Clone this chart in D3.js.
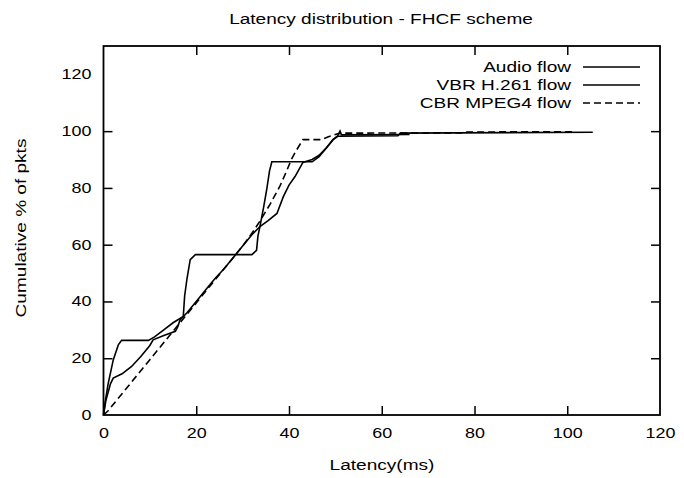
<!DOCTYPE html>
<html lang="en">
<head>
<meta charset="UTF-8">
<title>Latency distribution - FHCF scheme</title>
<script src="https://d3js.org/d3.v7.min.js"></script>
<style>
  body { margin: 0; background: #fff; }
  svg { display: block; }
  text { font-family: "Liberation Sans", Arial, sans-serif; font-size: 14px; fill: #000; }
  .domain { display: none; }
  .tick line { stroke: #000; stroke-width: 1.5; }
</style>
</head>
<body>
<svg></svg>
<script>
// latency (ms) / cumulative % pairs
const audioX = [0, 0.3, 1.0, 2.1, 3.2, 3.9, 9.7, 11, 13, 15, 17.2, 17.5, 18, 18.7, 19.8, 32, 33, 33.3, 33.8, 34.5, 35.2, 35.8, 36.3, 45, 46.5, 48, 49.5, 50.5, 63.5, 64, 105.5];
const audioY = [0, 4, 11, 19.4, 24.7, 26.3, 26.3, 27.5, 30, 32.5, 34.7, 42, 48, 54.7, 56.5, 56.5, 58, 63, 67, 73, 79.5, 86, 89.2, 89.2, 91, 94, 97, 98.2, 98.4, 99.3, 99.6];

const vbrX = [0, 0.5, 1.5, 2.1, 4, 6, 8, 10, 10.7, 13, 15.5, 16, 16.5, 18, 20, 22, 24, 26, 28, 30, 32, 33.8, 35.5, 37.4, 38.8, 40, 41.3, 43, 45, 46.5, 48, 49.5, 50.5, 51, 51.3, 66];
const vbrY = [0, 5, 11, 13, 14.5, 17, 20.5, 24.5, 26.5, 28, 29.5, 31, 33.5, 36, 40, 44, 48, 51.5, 55.5, 59.5, 63.5, 66.5, 68.5, 71, 77, 81, 84, 89, 90, 91.5, 94, 97, 98.3, 100, 98.7, 98.8];

const cbrX = [0, 1, 2, 4, 6, 8, 10, 12, 14, 16, 18, 20, 22, 24, 26, 28, 30, 32, 34, 36, 38, 39.5, 40.5, 41.5, 43, 47, 48.5, 50, 51, 77.5, 78, 101];
const cbrY = [0, 1.5, 3.5, 7.5, 11.5, 15.5, 19.5, 23.5, 27.5, 31.5, 35.5, 39.5, 43.5, 47.5, 51.5, 55.5, 59.5, 64, 69, 74.5, 80.5, 86, 90, 93, 97, 97, 98, 98.8, 99.3, 99.4, 99.7, 99.8];

const seriesNames = ["Audio flow", "VBR H.261 flow", "CBR MPEG4 flow"];
const seriesDash = [null, null, "7,4"];
const xTicks = [0, 20, 40, 60, 80, 100, 120];
const yTicks = [0, 20, 40, 60, 80, 100, 120];

const width = 684, height = 478;
const margin = { top: 46, right: 24, bottom: 63, left: 103.5 };
const svg = d3.select("svg").attr("width", width).attr("height", height);

const x = d3.scaleLinear().domain([0, 120]).range([margin.left, width - margin.right]);
const y = d3.scaleLinear().domain([0, 130]).range([height - margin.bottom, margin.top]);

// ticks on all four sides, pointing inward
svg.append("g")
    .attr("transform", `translate(0,${y(0)})`)
    .call(d3.axisBottom(x).tickValues(xTicks).tickSize(-9).tickSizeOuter(0).tickPadding(13))
    .selectAll("text").attr("dy", "0.71em");
svg.append("g")
    .attr("transform", `translate(0,${y(130)})`)
    .call(d3.axisTop(x).tickValues(xTicks).tickSize(-9).tickSizeOuter(0).tickFormat(""));
svg.append("g")
    .attr("transform", `translate(${x(0)},0)`)
    .call(d3.axisLeft(y).tickValues(yTicks).tickSize(-9).tickSizeOuter(0).tickPadding(12));
svg.append("g")
    .attr("transform", `translate(${x(120)},0)`)
    .call(d3.axisRight(y).tickValues(yTicks).tickSize(-9).tickSizeOuter(0).tickFormat(""));

svg.selectAll(".tick line").filter(d => d === 0 || d === 120).remove();

svg.append("rect")
    .attr("x", x(0)).attr("y", y(130))
    .attr("width", x(120) - x(0)).attr("height", y(0) - y(130))
    .attr("fill", "none").attr("stroke", "#000").attr("stroke-width", 1.8);

const line = d3.line().x(d => x(d[0])).y(d => y(d[1]));
const series = [
    d3.zip(audioX, audioY),
    d3.zip(vbrX, vbrY),
    d3.zip(cbrX, cbrY)
];

svg.append("g").selectAll("path")
    .data(series)
    .join("path")
    .attr("d", line)
    .attr("fill", "none")
    .attr("stroke", "#000")
    .attr("stroke-width", 1.6)
    .attr("stroke-dasharray", (d, i) => seriesDash[i]);

// legend, top right inside the frame
const legend = svg.append("g").selectAll("g")
    .data(seriesNames)
    .join("g")
    .attr("transform", (d, i) => `translate(0,${67 + i * 18})`);
legend.append("text")
    .attr("class", "label")
    .attr("x", 571).attr("dy", "0.35em")
    .attr("text-anchor", "end")
    .text(d => d);
legend.append("line")
    .attr("x1", 583).attr("x2", 640)
    .attr("stroke", "#000").attr("stroke-width", 1.6)
    .attr("stroke-dasharray", (d, i) => seriesDash[i]);

svg.append("text")
    .attr("class", "label")
    .attr("x", 381).attr("y", 24)
    .attr("text-anchor", "middle")
    .text("Latency distribution - FHCF scheme");
svg.append("text")
    .attr("class", "label")
    .attr("x", 382).attr("y", 470)
    .attr("text-anchor", "middle")
    .text("Latency(ms)");
svg.append("text")
    .attr("class", "label")
    .attr("transform", "translate(26,228) rotate(-90)")
    .attr("text-anchor", "middle")
    .text("Cumulative % of pkts");

// the original lettering is wider than Liberation Sans
svg.selectAll("text").each(function() {
    const w = this.getComputedTextLength();
    const k = this.classList.contains("label") ? 1.36 : 1.28;
    if (w > 0) d3.select(this).attr("textLength", w * k).attr("lengthAdjust", "spacingAndGlyphs");
});
</script>
</body>
</html>
